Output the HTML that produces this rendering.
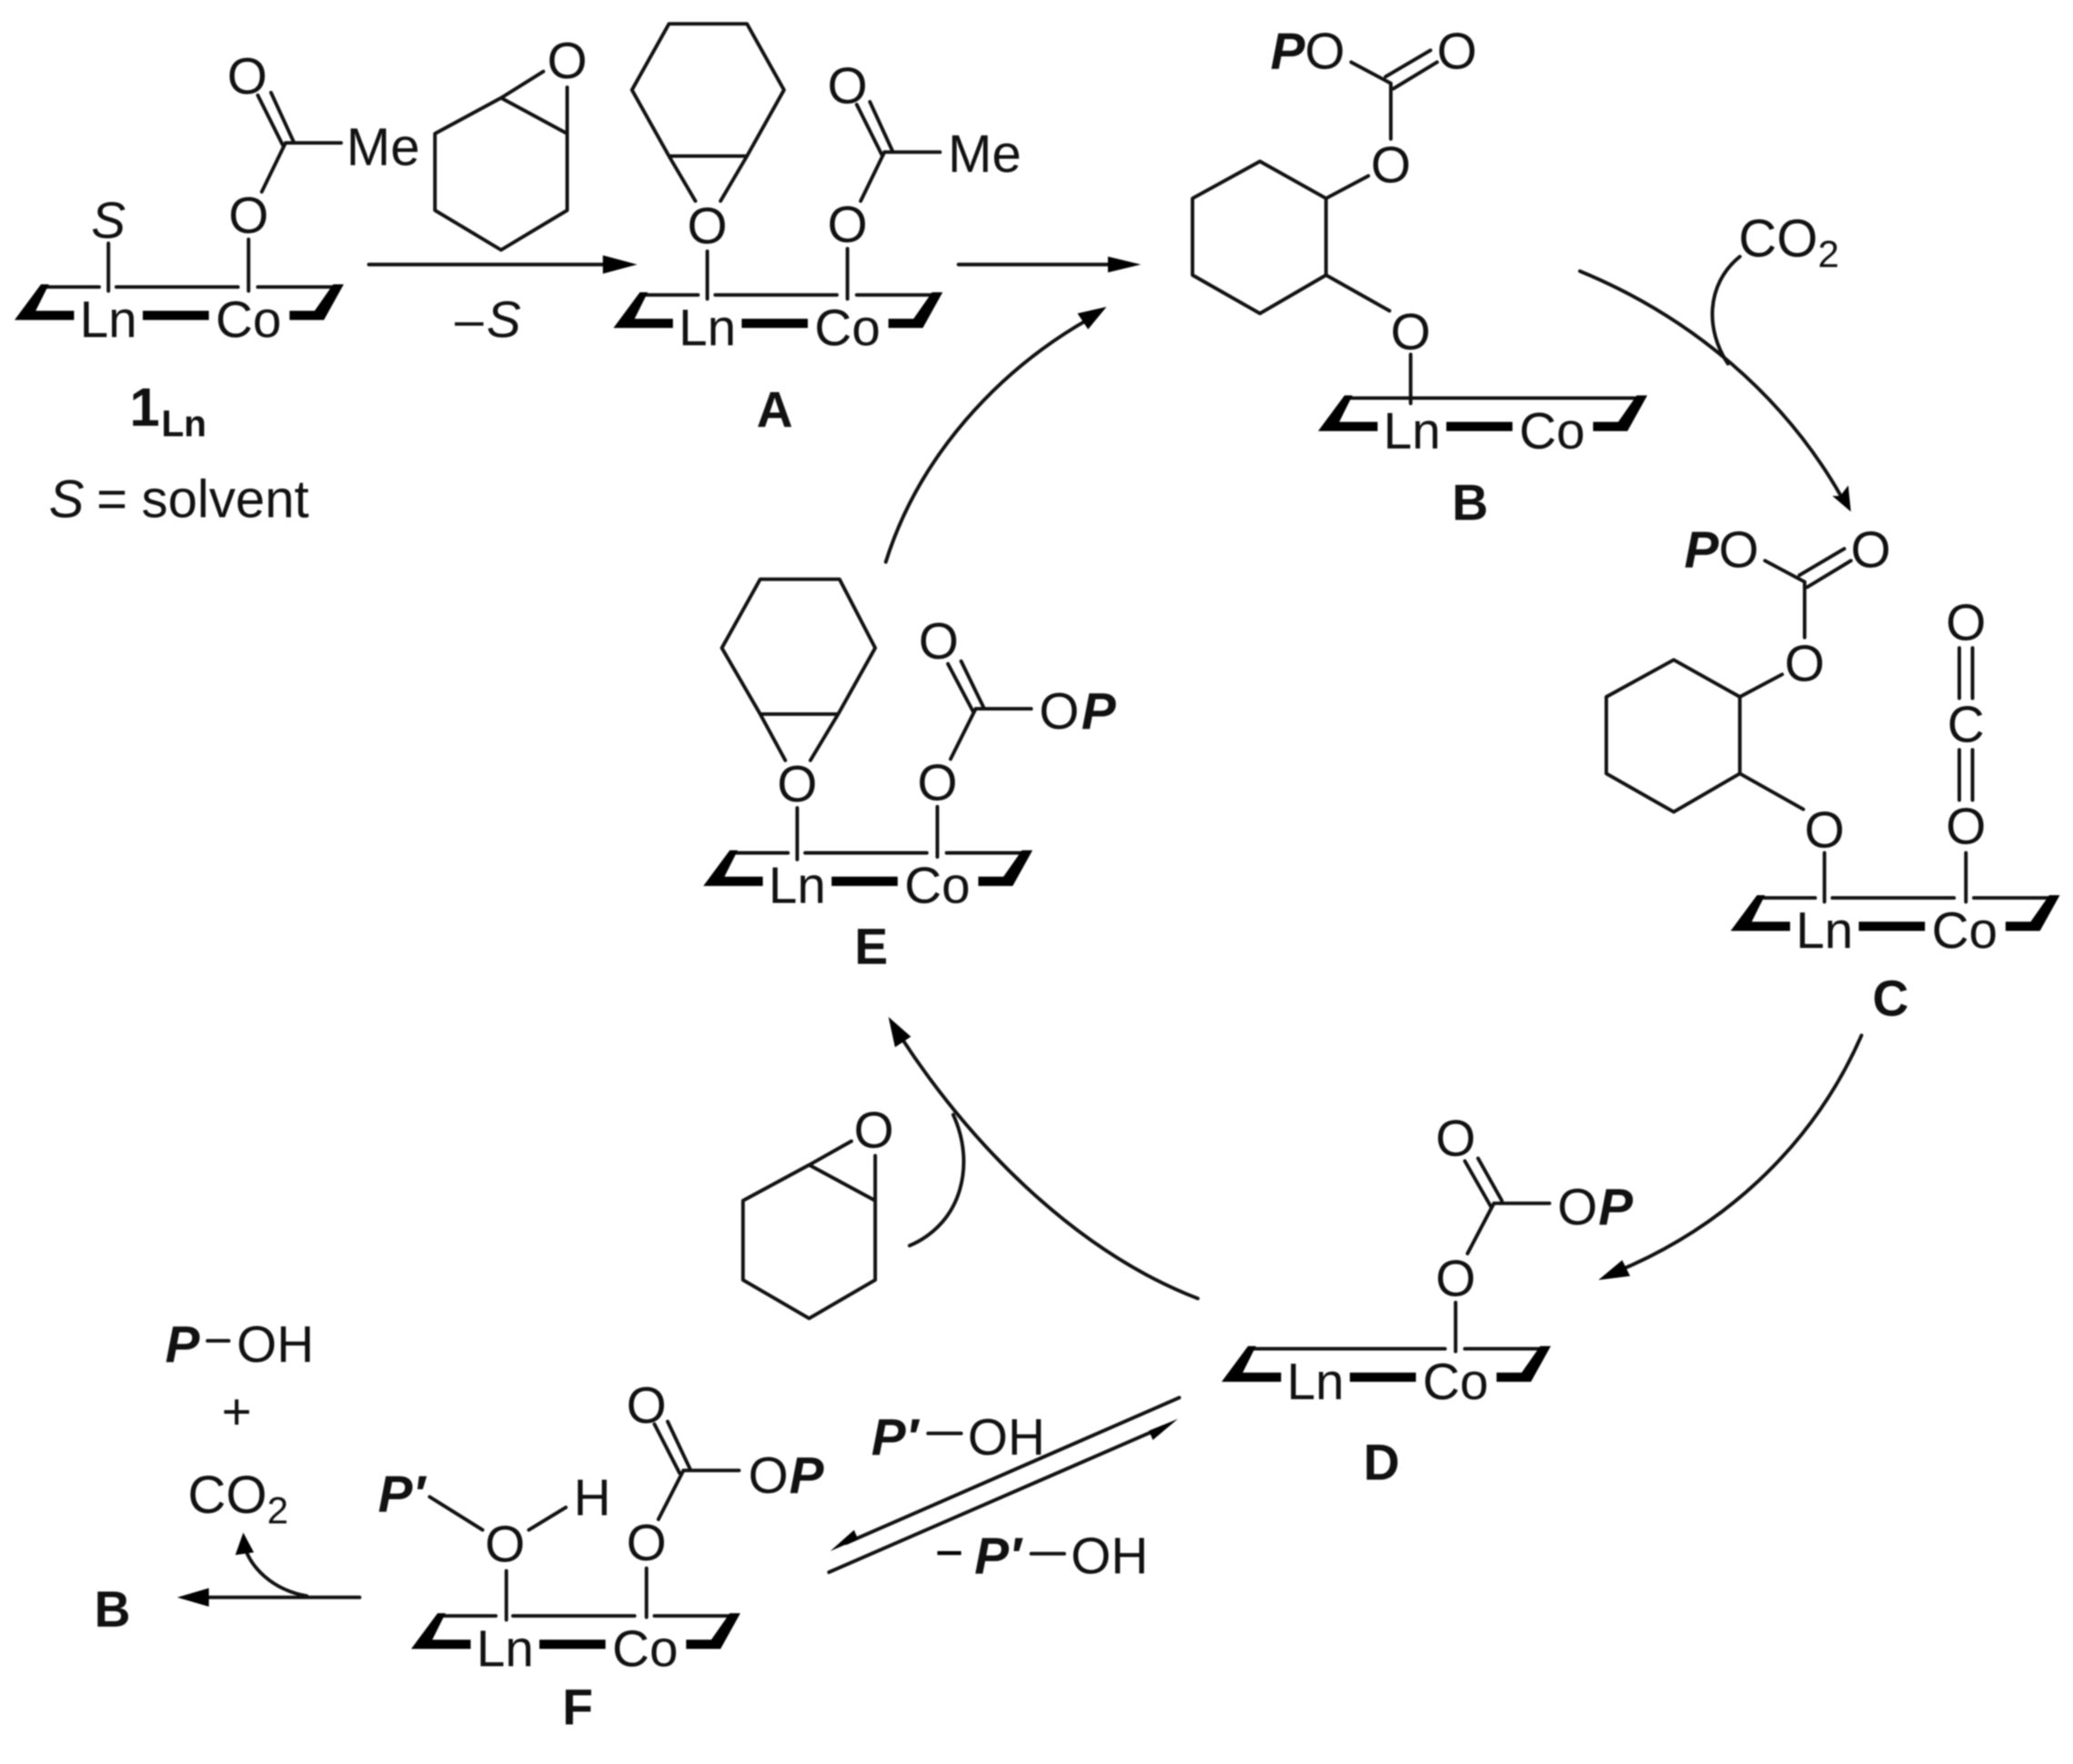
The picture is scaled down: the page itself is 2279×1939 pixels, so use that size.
<!DOCTYPE html>
<html><head><meta charset="utf-8"><style>
html,body{margin:0;padding:0;background:#fff;width:2279px;height:1939px;overflow:hidden}
svg{display:block;filter:blur(.8px)}
text{font-family:"Liberation Sans",sans-serif;font-size:39px;fill:#111}
.m{text-anchor:middle}
.b{font-weight:bold;font-size:38px}
.p{font-weight:bold;font-style:italic;font-size:39px}
.i{font-style:italic}
.l{fill:none;stroke:#111;stroke-width:2.7;stroke-linecap:round;stroke-linejoin:round}
.k{fill:#000;stroke:none}
.me{font-size:40px}
.co{font-size:40px}
.s{font-size:29px}
</style></head><body>
<svg width="2279" height="1939" viewBox="0 0 1568 1334" xmlns="http://www.w3.org/2000/svg">

<!-- Plates -->
<g transform="translate(82,216)"><path class="l" d="M-46 1H-7M6 1H98M113 1H175"/><path class="k" d="M-71 26L-51 -1H-45L-55 19H-26V26ZM26 19H76V26H26ZM137 19H156L170 -1H178L163 26H137Z"/><text class="m" y="39">Ln</text><text class="m" x="106" y="39">Co</text></g>
<g transform="translate(535,222)"><path class="l" d="M-46 1H-7M6 1H98M113 1H175"/><path class="k" d="M-71 26L-51 -1H-45L-55 19H-26V26ZM26 19H76V26H26ZM137 19H156L170 -1H178L163 26H137Z"/><text class="m" y="39">Ln</text><text class="m" x="106" y="39">Co</text></g>
<g transform="translate(1068,300)"><path class="l" d="M-46 1H175"/><path class="k" d="M-71 26L-51 -1H-45L-55 19H-26V26ZM26 19H76V26H26ZM137 19H156L170 -1H178L163 26H137Z"/><text class="m" y="39">Ln</text><text class="m" x="106" y="39">Co</text></g>
<g transform="translate(1380,678)"><path class="l" d="M-46 1H-7M6 1H98M113 1H175"/><path class="k" d="M-71 26L-51 -1H-45L-55 19H-26V26ZM26 19H76V26H26ZM137 19H156L170 -1H178L163 26H137Z"/><text class="m" y="39">Ln</text><text class="m" x="106" y="39">Co</text></g>
<g transform="translate(995,1019)"><path class="l" d="M-46 1H98M113 1H175"/><path class="k" d="M-71 26L-51 -1H-45L-55 19H-26V26ZM26 19H76V26H26ZM137 19H156L170 -1H178L163 26H137Z"/><text class="m" y="39">Ln</text><text class="m" x="106" y="39">Co</text></g>
<g transform="translate(603,644)"><path class="l" d="M-46 1H-7M6 1H98M113 1H175"/><path class="k" d="M-71 26L-51 -1H-45L-55 19H-26V26ZM26 19H76V26H26ZM137 19H156L170 -1H178L163 26H137Z"/><text class="m" y="39">Ln</text><text class="m" x="106" y="39">Co</text></g>
<g transform="translate(382,1221)"><path class="l" d="M-46 1H-7M6 1H98M113 1H175"/><path class="k" d="M-71 26L-51 -1H-45L-55 19H-26V26ZM26 19H76V26H26ZM137 19H156L170 -1H178L163 26H137Z"/><text class="m" y="39">Ln</text><text class="m" x="106" y="39">Co</text></g>

<!-- 1Ln -->
<text class="m i" x="82" y="180">S</text>
<text class="m" x="188" y="176">O</text>
<text class="m" x="187" y="71">O</text>
<text class="me" x="262" y="125">Me</text>
<path class="l" d="M82 184V220M188 181V220M198 145L216 108M195 72L214 110M205 70L222 107M216 108H258"/>
<!-- epoxide 1 -->
<text class="m" x="429" y="59">O</text>
<path class="l" d="M379 74L329 101V159L379 189L429 159V101L379 74L411 54M429 66V101"/>

<!-- A -->
<path class="l" d="M506 18H565L593 68L565 118H506L478 68ZM506 118L526 152M565 118L545 152M535 190V226M641 188V226M651 152L669 115M648 79L667 117M658 77L675 114M669 115H711"/>
<text class="m" x="535" y="184">O</text>
<text class="m" x="641" y="183">O</text>
<text class="m" x="641" y="78">O</text>
<text class="me" x="717" y="130">Me</text>

<!-- 1Ln→A, A→B -->
<path class="l" d="M279 200H465"/><path class="k" d="M482 200L456 193V207Z"/>
<path class="l" d="M725 200H845"/><path class="k" d="M863 200L838 194V206Z"/>

<!-- B -->
<path class="l" d="M953 122L1003 150V208L953 237L902 208V150ZM1003 150L1035 133M1003 208L1051 235M1067 268V305M1052 63V105M1022 47L1052 63M1048 58L1082 38M1054 67L1087 47"/>
<text class="m" x="1052" y="138">O</text>
<text class="m" x="1067" y="264">O</text>
<text class="m" x="1102" y="52">O</text>
<text class="p" x="961" y="52">P</text>
<text x="987" y="52">O</text>

<!-- C -->
<g transform="translate(313,377)">
<path class="l" d="M953 122L1003 150V208L953 237L902 208V150ZM1003 150L1035 133M1003 208L1051 235M1067 268V305M1052 63V105M1022 47L1052 63M1048 58L1082 38M1054 67L1087 47"/>
<text class="m" x="1052" y="138">O</text>
<text class="m" x="1067" y="264">O</text>
<text class="m" x="1102" y="52">O</text>
<text class="p" x="961" y="52">P</text>
<text x="987" y="52">O</text>
</g>
<text class="m" x="1487" y="484">O</text>
<text class="m" x="1487" y="561">C</text>
<text class="m" x="1487" y="638">O</text>
<path class="l" d="M1482 490V528M1492 490V528M1482 567V605M1492 567V605M1487 645V682"/>

<!-- B→C + CO2 -->
<path class="l" d="M1195 205C1280 240 1350 300 1393 376"/><path class="k" d="M1400 387L1386 375L1392 375L1398 367Z"/>
<path class="l" d="M1316 194C1290 215 1290 250 1307 275"/>
<text class="co" x="1315" y="194">CO<tspan class="s" dy="8">2</tspan></text>

<!-- D -->
<path class="l" d="M1101 985V1022M1110 948L1130 910M1108 878L1128 913M1118 876L1136 908M1130 910H1172"/>
<text class="m" x="1101" y="980">O</text>
<text class="m" x="1101" y="874">O</text>
<text x="1178" y="926">O</text>
<text class="p" x="1209" y="926">P</text>

<!-- E -->
<path class="l" d="M575 438H635L662 490L634 540H575L546 490ZM575 540L594 575M634 540L613 575M603 611V650M709 610V648M719 574L738 536M717 502L736 538M727 500L744 535M738 536H780"/>
<text class="m" x="603" y="606">O</text>
<text class="m" x="709" y="605">O</text>
<text class="m" x="710" y="498">O</text>
<text x="786" y="551">O</text>
<text class="p" x="818" y="551">P</text>

<!-- F -->
<path class="l" d="M383 1188V1225M489 1186V1223M325 1132L365 1157M400 1157L428 1140M498 1149L517 1112M495 1077L514 1114M505 1075L522 1111M517 1112H559"/>
<text class="m" x="382" y="1181">O</text>
<text class="m" x="489" y="1180">O</text>
<text class="m" x="489" y="1076">O</text>
<text class="m" x="448" y="1146">H</text>
<text x="566" y="1129">O</text>
<text class="p" x="597" y="1129">P</text>
<text class="p" x="286" y="1143">P&#8242;</text>

<!-- Epoxide lower -->
<g transform="translate(233,807)">
<text class="m" x="428" y="61">O</text>
<path class="l" d="M379 74L329 101V161L379 190L429 161V101L379 74L411 56M429 67V101"/>
</g>

<!-- E→B -->
<path class="l" d="M670 425C695 345 755 280 824 241"/><path class="k" d="M837 232L815 237L823 249Z"/>
<!-- C→D -->
<path class="l" d="M1408 783C1370 870 1300 930 1222 962"/><path class="k" d="M1209 968L1233 965L1227 953Z"/>
<!-- D→E -->
<path class="l" d="M906 982C810 945 730 860 680 782"/><path class="k" d="M672 769L677 792L689 784Z"/>
<path class="l" d="M688 942C728 925 738 880 721 843"/>

<!-- Equilibrium -->
<path class="l" d="M892 1057L640 1167"/><path class="k" d="M628 1173L646 1157L649 1164Z"/>
<path class="l" d="M627 1189L880 1079"/><path class="k" d="M891 1073L872 1089L869 1082Z"/>
<text class="p" x="659" y="1100">P&#8242;</text><path class="l" d="M702 1084H727"/><text x="732" y="1100">OH</text>
<path class="k" d="M709 1173H727V1176H709Z"/><path class="l" d="M780 1175H805"/>
<text class="p" x="737" y="1190">P&#8242;</text><text x="810" y="1190">OH</text>

<!-- Bottom left -->
<text class="p" x="125" y="1030">P</text><path class="l" d="M157 1014H173"/><text x="179" y="1030">OH</text>
<text class="m" x="179" y="1081">+</text>
<text class="co" x="142" y="1144">CO<tspan class="s" dy="8">2</tspan></text>
<path class="l" d="M272 1208H150M232 1207C205 1202 190 1185 185 1170"/>
<path class="k" d="M134 1208L158 1201V1215ZM184 1159L178 1176L192 1174Z"/>

<!-- Labels -->
<text class="b" x="98" y="322" style="font-size:41px">1</text><text class="b" x="122" y="330" style="font-size:28px">Ln</text>
<text class="b m" x="586" y="323">A</text>
<text class="i co" x="37" y="391">S</text><text class="co" x="73" y="391">=</text><text class="co" x="107" y="391">solvent</text>
<text x="344" y="255">–</text><text class="i" x="368" y="255">S</text>
<text class="b m" x="1112" y="393">B</text>
<text class="b m" x="1430" y="768">C</text>
<text class="b m" x="1045" y="1119">D</text>
<text class="b m" x="659" y="729">E</text>
<text class="b m" x="437" y="1304">F</text>
<text class="b m" x="85" y="1230">B</text>
</svg>
</body></html>
